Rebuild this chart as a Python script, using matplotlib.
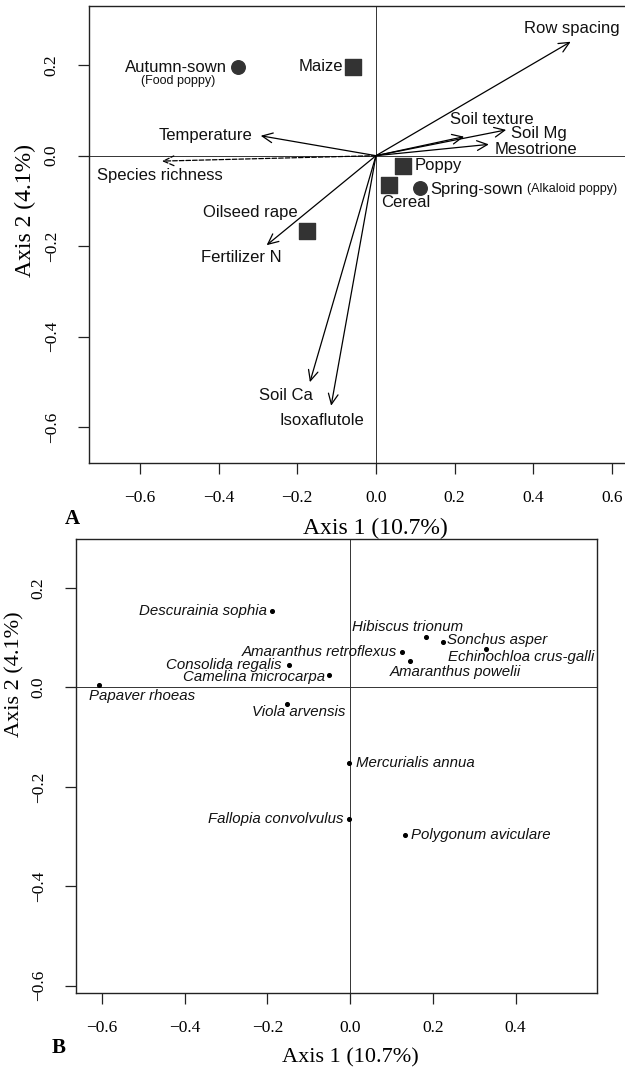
import matplotlib
matplotlib.use('agg')
import matplotlib.pyplot as plt

plt.rcParams.update({'font.family': 'Liberation Serif', 'font.size': 12})

# --- panel A: environmental vectors (arrows from origin)
env_names = ["Row spacing", "Soil texture", "Soil Mg", "Mesotrione", "Temperature",
             "Species richness", "Fertilizer N", "Soil Ca", "Isoxaflutole"]
env_x = [0.495, 0.224, 0.331, 0.287, -0.293, -0.544, -0.278, -0.168, -0.114]
env_y = [0.252, 0.042, 0.057, 0.025, 0.044, -0.012, -0.198, -0.501, -0.553]

# crop centroids (squares)
crop_names = ["Maize", "Poppy", "Cereal", "Oilseed rape"]
crop_x = [-0.058, 0.068, 0.033, -0.175]
crop_y = [0.197, -0.022, -0.065, -0.166]

# sowing time centroids (circles)
sow_names = ["Autumn-sown", "Spring-sown"]
sow_notes = ["(Food poppy)", "(Alkaloid poppy)"]
sow_x = [-0.351, 0.112]
sow_y = [0.195, -0.072]

# --- panel B: species scores
species = ["Descurainia sophia", "Hibiscus trionum", "Sonchus asper",
           "Echinochloa crus-galli", "Amaranthus retroflexus", "Amaranthus powelii",
           "Consolida regalis", "Camelina microcarpa", "Papaver rhoeas",
           "Viola arvensis", "Mercurialis annua", "Fallopia convolvulus",
           "Polygonum aviculare"]
sp_x = [-0.189, 0.184, 0.224, 0.329, 0.126, 0.145, -0.148, -0.051, -0.607,
        -0.152, -0.002, -0.002, 0.133]
sp_y = [0.154, 0.102, 0.092, 0.078, 0.072, 0.054, 0.045, 0.025, 0.005,
        -0.034, -0.151, -0.264, -0.297]

# label placement (pixel offsets from the point, alignment)
env_lab = [(1, 13, 'center'), (28, 17, 'center'), (5, -4, 'left'), (6, -5, 'left'),
           (-8, 0, 'right'), (-2, -14, 'center'), (-25, -12, 'center'),
           (-24, -13, 'center'), (-9, -15, 'center')]
crop_lab = [(-10, 0, 'right'), (12, 0, 'left'), (17, -17, 'center'), (-57, 18, 'center')]
sow_lab = [(-11, 0, 'right'), (10, -1, 'left')]
sow_note_lab = [(-60, -14, 'center'), (107, -1, 'left')]
sp_lab = [(-5, 0, 'right'), (-19, 10, 'center'), (4, 2, 'left'), (-38, -8, 'left'),
          (-5, 0, 'right'), (45, -11, 'center'), (-7, 0, 'right'), (-4, -2, 'right'),
          (43, -11, 'center'), (11, -8, 'center'), (7, 0, 'left'), (-6, 0, 'right'),
          (6, 0, 'left')]

SANS = 'Liberation Sans'
W, H = 625, 1070

fig = plt.figure(figsize=(W / 100, H / 100), dpi=100)


def px_axes(left, top, right, bottom):
    return fig.add_axes([left / W, 1 - bottom / H, (right - left) / W, (bottom - top) / H])


def style(ax, xticks, yticks):
    ax.axhline(0, color='#333333', lw=0.7, zorder=0)
    ax.axvline(0, color='#333333', lw=0.7, zorder=0)
    ax.set_xticks(xticks)
    ax.set_yticks(yticks)
    ax.tick_params(axis='both', length=8, width=0.9, labelsize=12.5, color='#222222')
    ax.tick_params(axis='x', pad=12)
    ax.tick_params(axis='y', pad=13, labelrotation=90)
    for t in ax.get_yticklabels():
        t.set_va('center')
    for s in ax.spines.values():
        s.set_linewidth(1.0)
        s.set_color('#222222')


def lab(ax, text, x, y, off, size, **kw):
    dx, dy, ha = off
    ax.annotate(text, (x, y), xytext=(dx, dy), textcoords='offset pixels',
                ha=ha, va='center', fontsize=size, family=SANS, color='#111111', **kw)


# ---------- panel A
ax = px_axes(88.8, 6, 635.6, 462.7)
ax.set_xlim(-0.73, 0.66)
ax.set_ylim(-0.679, 0.331)
style(ax, [-0.6, -0.4, -0.2, 0.0, 0.2, 0.4, 0.6], [-0.6, -0.4, -0.2, 0.0, 0.2])

for name, x, y, off in zip(env_names, env_x, env_y, env_lab):
    ls = '--' if name == "Species richness" else '-'
    ax.annotate("", xy=(x, y), xytext=(0, 0),
                arrowprops=dict(arrowstyle='->,head_length=0.75,head_width=0.35',
                                mutation_scale=10, lw=0.9, color='black', linestyle=ls,
                                shrinkA=0, shrinkB=0))
    lab(ax, name, x, y, off, 12)

ax.scatter(crop_x, crop_y, marker='s', s=130, color='#333333', zorder=3)
for name, x, y, off in zip(crop_names, crop_x, crop_y, crop_lab):
    lab(ax, name, x, y, off, 12)

ax.scatter(sow_x, sow_y, marker='o', s=95, color='#333333', zorder=3)
for name, note, x, y, off, off2 in zip(sow_names, sow_notes, sow_x, sow_y, sow_lab, sow_note_lab):
    lab(ax, name, x, y, off, 12)
    lab(ax, note, x, y, off2, 9)

ax.text(0.525, -0.143, "Axis 1 (10.7%)", transform=ax.transAxes, ha='center', va='center', fontsize=17)
ax.text(-0.115, 0.553, "Axis 2 (4.1%)", transform=ax.transAxes, ha='center', va='center',
        rotation=90, fontsize=17)
fig.text(72 / W, 1 - 519 / H, "A", fontsize=15, fontweight='bold', ha='center', va='center')

# ---------- panel B
bx = px_axes(76, 539.3, 597, 992.7)
bx.set_xlim(-0.663, 0.597)
bx.set_ylim(-0.614, 0.298)
style(bx, [-0.6, -0.4, -0.2, 0.0, 0.2, 0.4], [-0.6, -0.4, -0.2, 0.0, 0.2])

bx.scatter(sp_x, sp_y, s=7, color='black', zorder=3)
for name, x, y, off in zip(species, sp_x, sp_y, sp_lab):
    lab(bx, name, x, y, off, 10.8, style='italic')

bx.text(0.526, -0.144, "Axis 1 (10.7%)", transform=bx.transAxes, ha='center', va='center', fontsize=16)
bx.text(-0.117, 0.703, "Axis 2 (4.1%)", transform=bx.transAxes, ha='center', va='center',
        rotation=90, fontsize=16)
fig.text(59 / W, 1 - 1048 / H, "B", fontsize=15, fontweight='bold', ha='center', va='center')

fig.savefig('out.png', dpi=100)
